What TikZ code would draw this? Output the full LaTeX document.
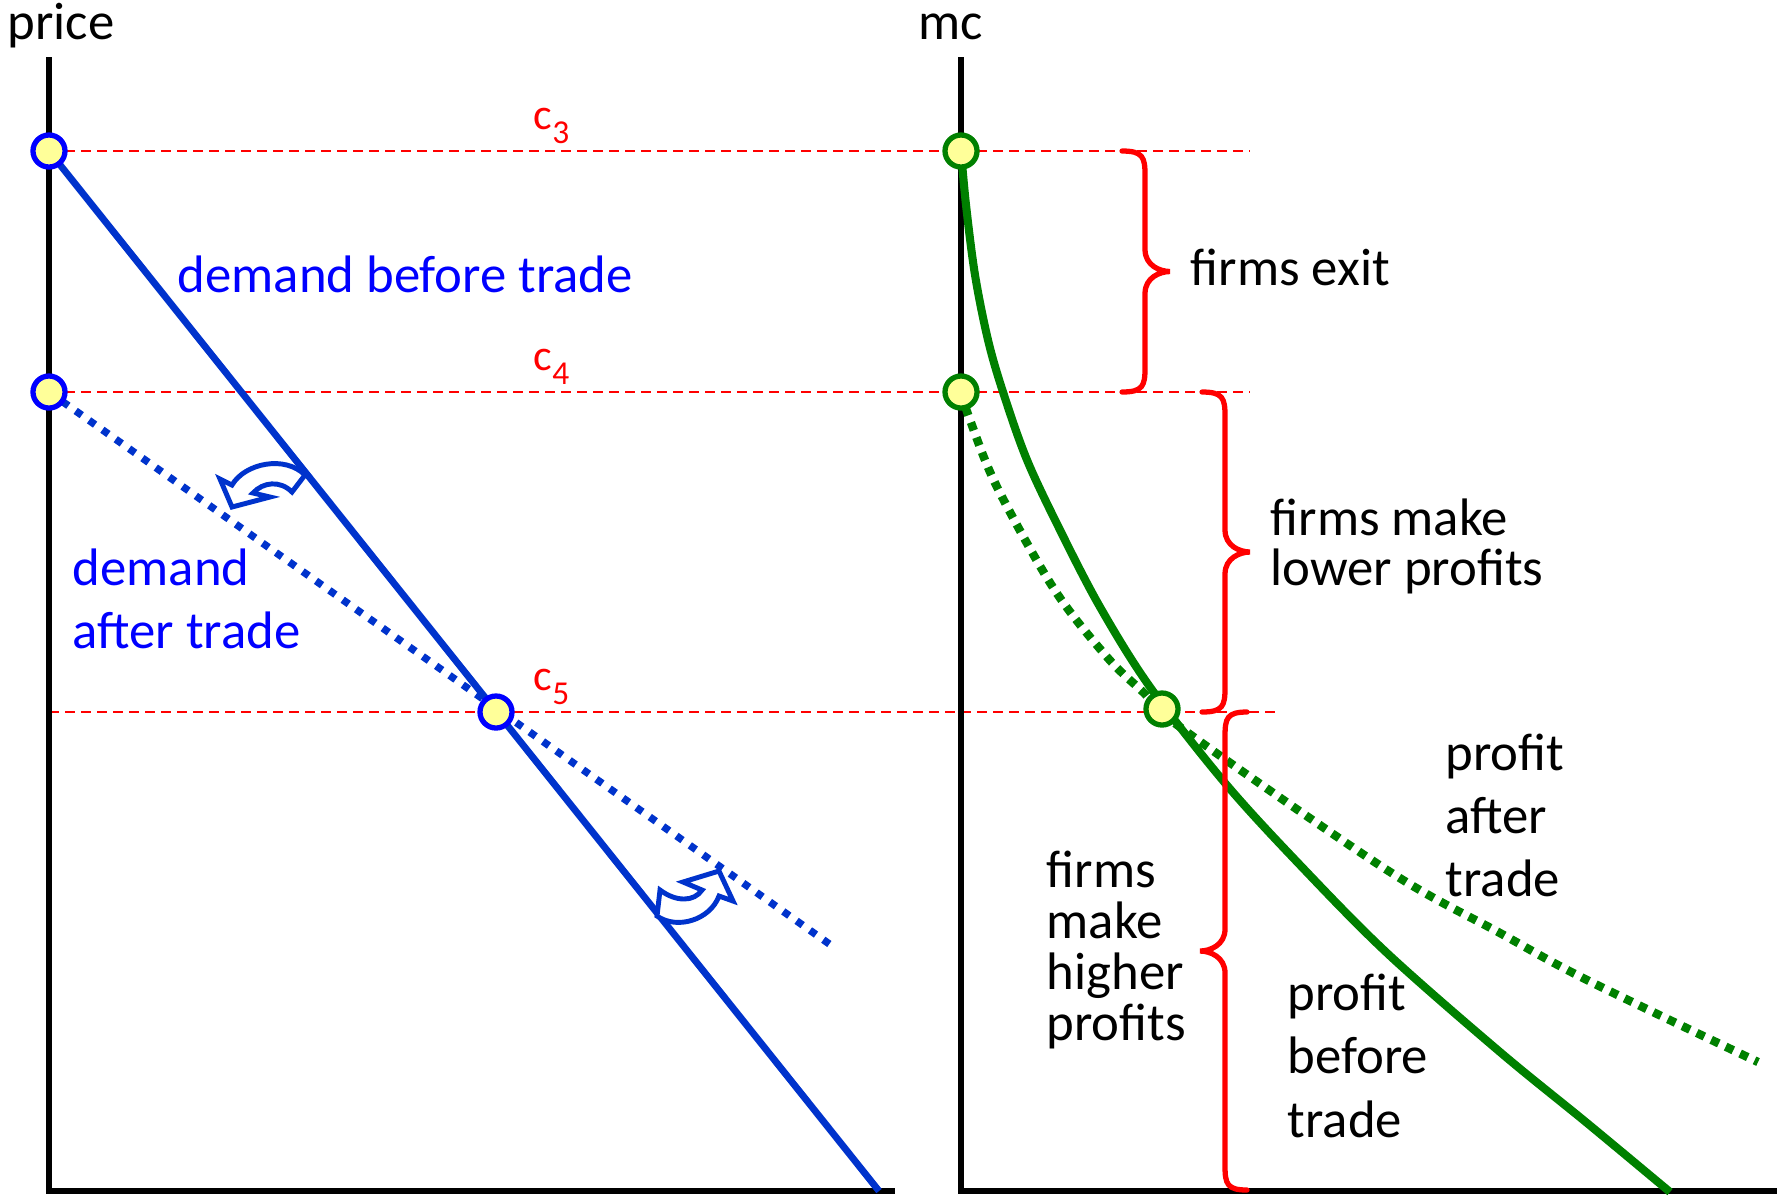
\documentclass[tikz,border=0pt]{standalone}
\usepackage{fontspec}
\setmainfont{Carlito}
\definecolor{lineblue}{RGB}{0,51,204}
\definecolor{textblue}{RGB}{0,0,255}
\definecolor{mygreen}{RGB}{0,128,0}
\definecolor{myred}{RGB}{255,0,0}
\definecolor{dotfill}{RGB}{255,255,153}
\newcommand\drawbrace[6]{%
  \draw[bracestyle] (#1,#4) .. controls ({#1+0.9*(#2-#1)},#4) and (#2,{#4+6}) .. (#2,{#4+24})
    -- (#2,{#5-22}) .. controls (#2,{#5-6}) and ({#3+0.4*(#2-#3)},#5) .. (#3,#5)
    .. controls ({#3+0.4*(#2-#3)},#5) and (#2,{#5+6}) .. (#2,{#5+22})
    -- (#2,{#6-24}) .. controls (#2,{#6-6}) and ({#1+0.9*(#2-#1)},#6) .. (#1,#6);}
\newcommand\csub[1]{c\raisebox{-4pt}{\fontsize{9.5}{11}\selectfont #1}}
\begin{document}
\begin{tikzpicture}[x=0.01cm,y=-0.01cm,
  axis/.style={black,line width=1.55pt},
  guide/.style={myred,line width=0.75pt,dash pattern=on 2.85pt off 1.7pt},
  bracestyle/.style={myred,line width=1.5pt,line cap=round},
  bluesolid/.style={lineblue,line width=1.95pt},
  bluedot/.style={lineblue,line width=2.1pt,dash pattern=on 2.1pt off 2.55pt},
  greensolid/.style={mygreen,line width=2.3pt},
  greendot/.style={mygreen,line width=2.4pt,dash pattern=on 2.4pt off 2.15pt},
  bluept/.style={circle,draw=textblue,fill=dotfill,line width=1.5pt,minimum size=0.32cm,inner sep=0pt},
  greenpt/.style={circle,draw=mygreen,fill=dotfill,line width=1.5pt,minimum size=0.32cm,inner sep=0pt},
  blockarrow/.style={draw=lineblue,fill=white,line width=1.4pt,line join=miter},
  lbl/.style={anchor=base west,inner sep=0pt,font=\fontsize{15}{18}\selectfont},
  clbl/.style={anchor=base west,inner sep=0pt,text=myred,font=\fontsize{12.5}{14}\selectfont},
]
\useasboundingbox (0,0) rectangle (1777,1196);

% coordinates
\coordinate (LT) at (49,57);
\coordinate (LO) at (49,1191);
\coordinate (LX) at (895,1191);
\coordinate (RT) at (961,57);
\coordinate (RO) at (961,1191);
\coordinate (RX) at (1777,1191);
\coordinate (bEnd) at (879,1191);
\coordinate (dEnd) at (835,948);

% guide lines
\draw[guide] (49,151) -- (1250,151);
\draw[guide] (49,392) -- (1250,392);
\draw[guide] (49,712) -- (1281,712);

% axes
\draw[axis] (LT) -- (LO) -- (LX);
\draw[axis] (RT) -- (RO) -- (RX);

% demand lines
\draw[bluesolid] (49,151) -- (bEnd);
\draw[bluedot] (49,392) -- (dEnd);

% mc curves
\draw[greendot] plot[smooth,tension=0.55] coordinates {(961,392) (970,420) (997,487) (1054,589) (1107,657) (1143,692) (1184,730) (1387,870) (1500,933) (1587,980) (1758,1062)};
\draw[greensolid] plot[smooth,tension=0.55] coordinates {(961,151) (966,205) (975,275) (988,340) (1003,392) (1027,460) (1060,530) (1100,607) (1150,687) (1225,783) (1300,865) (1387,953) (1500,1052) (1587,1123) (1670,1192)};

% curved block arrows
\draw[blockarrow] (305,475) .. controls (285,455) and (245,463) .. (232,485) -- (220,479) -- (232,507) -- (270,497) -- (253,493) .. controls (263,482) and (280,480) .. (292,492) -- cycle;
\draw[blockarrow] (657,916) .. controls (677,930) and (710,920) .. (719,896) -- (733,901) -- (719,871) -- (683,882) -- (702,890) .. controls (694,902) and (676,902) .. (660,890) -- cycle;

% points
\node[bluept] (P3) at (49,151) {};
\node[bluept] (P4) at (49,392) {};
\node[bluept] (P5) at (496,712) {};
\node[greenpt] (M3) at (961,151) {};
\node[greenpt] (M4) at (961,392) {};
\node[greenpt] (M5) at (1162,709) {};

% braces
\drawbrace{1122}{1145}{1170}{151}{271.5}{392}
\drawbrace{1202}{1225}{1250}{392}{552}{712}
\drawbrace{1247}{1225}{1200}{712}{951}{1190}

% labels (multi-line nodes: base = baseline of last line)
\node[lbl] (tprice) at (7,39) {price};
\node[lbl] (tmc) at (918,39) {mc};
\node[clbl] (c3) at (533,129) {\csub{3}};
\node[clbl] (c4) at (533,370) {\csub{4}};
\node[clbl] (c5) at (533,690) {\csub{5}};
\node[lbl,text=textblue] (dbt) at (177,292) {demand before trade};
\node[lbl,text=textblue,align=left,font=\fontsize{15}{17.9}\selectfont] (dat) at (72,648) {demand\\after trade};
\node[lbl] (fexit) at (1190,285) {firms exit};
\node[lbl,align=left,font=\fontsize{15}{14.2}\selectfont] (flow) at (1270,585) {firms make\\lower profits};
\node[lbl,align=left,font=\fontsize{15}{17.9}\selectfont] (pat) at (1445,896) {profit\\after\\trade};
\node[lbl,align=left,font=\fontsize{15}{14.5}\selectfont] (fhigh) at (1046,1040) {firms\\make\\higher\\profits};
\node[lbl,align=left,font=\fontsize{15}{18}\selectfont] (pbt) at (1287,1137) {profit\\before\\trade};
\end{tikzpicture}
\end{document}
